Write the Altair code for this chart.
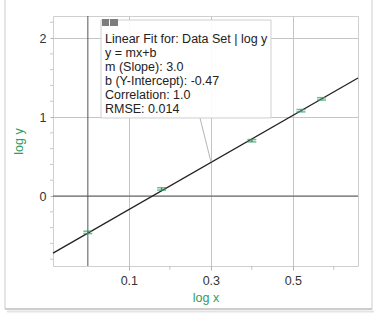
import altair as alt
import pandas as pd

# ---- data ----
log_x = [0.0, 0.18, 0.40, 0.52, 0.57]
log_y = [-0.46, 0.09, 0.70, 1.08, 1.23]
y_err = [0.015, 0.015, 0.015, 0.015, 0.015]

slope = 2.98
intercept = -0.47

fit_lines = [
    "Linear Fit for: Data Set | log y",
    "y = mx+b",
    "m (Slope): 3.0",
    "b (Y-Intercept): -0.47",
    "Correlation: 1.0",
    "RMSE: 0.014",
]

x_labeled = [0.1, 0.3, 0.5]
x_minor = [0.2, 0.4, 0.6]
y_labeled = [0, 1, 2]
y_minor = [-0.8, -0.6, -0.4, -0.2, 0.2, 0.4, 0.6, 0.8, 1.2, 1.4,
           1.6, 1.8, 2.2]

x_dom = [-0.085, 0.659]
y_dom = [-0.886, 2.279]

GREEN = "#2f9c66"
FONT = "Liberation Sans"
W, H = 305, 250

pts = pd.DataFrame({"x": log_x, "y": log_y, "err": y_err})
pts["lo"] = pts["y"] - pts["err"]
pts["hi"] = pts["y"] + pts["err"]

fit = pd.DataFrame({"x": x_dom, "y": [slope * v + intercept for v in x_dom]})

xs = alt.Scale(domain=x_dom, nice=False, zero=False)
ys = alt.Scale(domain=y_dom, nice=False, zero=False)

x_axis = alt.Axis(
    values=x_labeled, format=".1f", title="log x", titleColor=GREEN, titleFont=FONT,
    titleFontSize=12.5, titleFontWeight="normal", titlePadding=5,
    labelFont=FONT, labelFontSize=12.5, labelColor="#333", labelPadding=4,
    tickSize=4, tickColor="#b0b0b0", domain=False,
    grid=True, gridColor="#c4c4c4",
)
y_axis = alt.Axis(
    values=y_labeled, format="d", title="log y", titleColor=GREEN, titleFont=FONT,
    titleFontSize=12.5, titleFontWeight="normal", titlePadding=14,
    labelFont=FONT, labelFontSize=12.5, labelColor="#333", labelPadding=4,
    tickSize=3, tickColor="#b0b0b0", domain=False,
    grid=True, gridColor="#c4c4c4",
)

base = alt.Chart(pts)

axes_layer = alt.Chart(pd.DataFrame({"x": [0.0], "y": [0.0]})).mark_point(opacity=0).encode(
    x=alt.X("x:Q", scale=xs, axis=x_axis),
    y=alt.Y("y:Q", scale=ys, axis=y_axis),
)

# minor ticks
ymin_t = alt.Chart(pd.DataFrame({"v": y_minor})).mark_tick(
    color="#b0b0b0", orient="horizontal", size=3, thickness=1
).encode(y=alt.Y("v:Q", scale=ys), x=alt.value(-1.5))
xmin_t = alt.Chart(pd.DataFrame({"v": x_minor})).mark_tick(
    color="#b0b0b0", orient="vertical", size=4, thickness=1
).encode(x=alt.X("v:Q", scale=xs), y=alt.value(H + 2))

zero_lines = alt.Chart(pd.DataFrame({"v": [0.0]}))
vzero = zero_lines.mark_rule(color="#555", strokeWidth=1).encode(x=alt.X("v:Q", scale=xs))
hzero = zero_lines.mark_rule(color="#555", strokeWidth=1).encode(y=alt.Y("v:Q", scale=ys))

fit_line = alt.Chart(fit).mark_line(color="#222", strokeWidth=1.3).encode(
    x=alt.X("x:Q", scale=xs), y=alt.Y("y:Q", scale=ys)
)

err_rule = base.mark_rule(color=GREEN, strokeWidth=1.5).encode(
    x=alt.X("x:Q", scale=xs), y=alt.Y("lo:Q", scale=ys), y2="hi:Q"
)
cap_lo = base.mark_tick(color=GREEN, orient="horizontal", size=9, thickness=1.5).encode(
    x=alt.X("x:Q", scale=xs), y=alt.Y("lo:Q", scale=ys)
)
cap_hi = base.mark_tick(color=GREEN, orient="horizontal", size=9, thickness=1.5).encode(
    x=alt.X("x:Q", scale=xs), y=alt.Y("hi:Q", scale=ys)
)

# annotation box (pixel positions relative to plot area)
one = alt.Chart(pd.DataFrame({"a": [0]}))
leader = one.mark_rule(color="#b5b5b5", strokeWidth=1).encode(
    x=alt.value(147), y=alt.value(102), x2=alt.value(158), y2=alt.value(146)
)
box = one.mark_rect(fill="white", fillOpacity=0.92, stroke="#cfcfcf", strokeWidth=1).encode(
    x=alt.value(48), x2=alt.value(218), y=alt.value(4), y2=alt.value(102)
)
icon1 = one.mark_rect(fill="#7d7d7d").encode(
    x=alt.value(49), x2=alt.value(56), y=alt.value(3), y2=alt.value(10)
)
icon2 = one.mark_rect(fill="#7d7d7d").encode(
    x=alt.value(57), x2=alt.value(65), y=alt.value(3), y2=alt.value(10)
)
label = alt.Chart(pd.DataFrame({"t": ["\n".join(fit_lines)]})).mark_text(
    align="left", baseline="alphabetic", font=FONT, fontSize=12.5,
    lineBreak="\n", lineHeight=14, color="#222"
).encode(x=alt.value(52), y=alt.value(27), text="t:N")

# outer panel frame
frame_l = one.mark_rule(color="#cccccc").encode(x=alt.value(-48), y=alt.value(-16), y2=alt.value(293))
frame_r = one.mark_rule(color="#cccccc").encode(x=alt.value(319), y=alt.value(-16), y2=alt.value(293))
frame_b = one.mark_rule(color="#bdbdbd", strokeWidth=1.5).encode(x=alt.value(-48), x2=alt.value(319), y=alt.value(293))
frame_b2 = one.mark_rule(color="#e3e3e3", strokeWidth=2).encode(x=alt.value(-46), x2=alt.value(321), y=alt.value(295.5))

chart = alt.layer(
    axes_layer, ymin_t, xmin_t, vzero, hzero, fit_line, err_rule, cap_lo, cap_hi,
    leader, box, icon1, icon2, label, frame_l, frame_r, frame_b, frame_b2,
).properties(
    width=W, height=H,
    autosize=alt.AutoSizeParams(type="none"),
    padding={"left": 53, "top": 16, "right": 21, "bottom": 49},
    background="white",
).configure_view(stroke="#cfcfcf", strokeWidth=1)

chart.save("out.html", embed_options={"renderer": "svg", "actions": False})
